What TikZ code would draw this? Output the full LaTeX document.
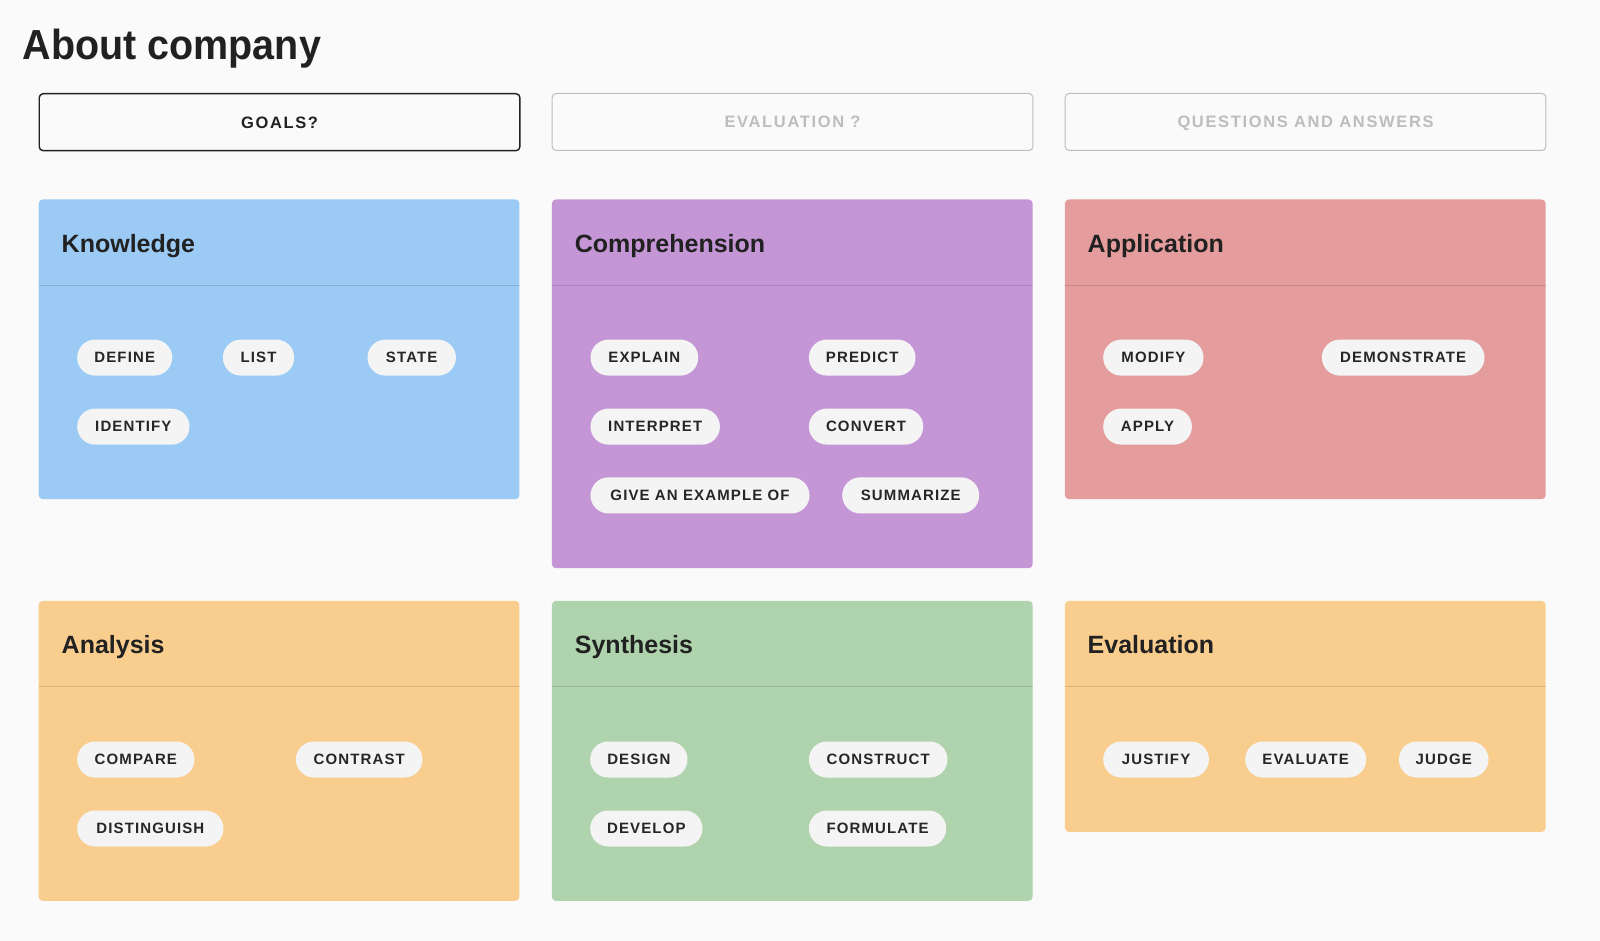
\documentclass[tikz,border=0pt]{standalone}
\usepackage{fontspec}
\setmainfont{Liberation Sans}
\newfontfamily\titlefont{Liberation Sans}[FakeStretch=0.94]
\newfontfamily\chipfont{Liberation Sans}[LetterSpace=7.5]
\newfontfamily\tabfont{Liberation Sans}[LetterSpace=10]
\definecolor{bg}{HTML}{FAFAFA}
\definecolor{cblue}{HTML}{9BCAF5}
\definecolor{cpurple}{HTML}{C596D6}
\definecolor{cred}{HTML}{E49D9C}
\definecolor{corange}{HTML}{F9CD8D}
\definecolor{cgreen}{HTML}{AFD3AC}
\definecolor{chipfill}{HTML}{F4F4F4}
\definecolor{ink}{HTML}{212121}
\definecolor{chipink}{HTML}{262626}
\definecolor{muted}{HTML}{BDBDBD}
\tikzset{
  tabbox/.style={draw=muted, line width=1pt, rounded corners=4pt, fill=bg,
    minimum width=480.7pt, minimum height=57pt, inner sep=0pt, anchor=north west,
    text height=11.8pt, text depth=0pt,
    text=muted, font=\tabfont\fontsize{16.5}{20}\selectfont\bfseries},
  activetab/.style={draw=ink, line width=1.4pt, text=ink},
  card/.style={rounded corners=4pt, minimum width=480.7pt, inner sep=0pt,
    anchor=north west, draw=none},
  cardtitle/.style={anchor=base west, inner sep=0pt, text=ink,
    font=\fontsize{25}{30}\selectfont\bfseries},
  divider/.style={draw=black, draw opacity=0.13, line width=1pt},
  chipbox/.style={fill=chipfill, rounded corners=17.9pt, minimum height=36pt,
    inner sep=0pt, anchor=west, text=chipink, text height=10.7pt, text depth=0pt,
    font=\chipfont\fontsize{15}{18}\selectfont\bfseries}
}
\newcommand\chipat[5]{\node[chipbox, minimum width=#4pt] (#1) at (#2,#3) {#5};}
\begin{document}
\begin{tikzpicture}[x=1pt, y=-1pt]
\fill[bg] (0,0) rectangle (1600,941);
\useasboundingbox (0,0) rectangle (1600,941);

% heading
\node[anchor=base west, inner sep=0pt, text=ink,
  font=\titlefont\fontsize{42}{48}\selectfont\bfseries] (heading) at (22.5,59.3) {About company};

% tabs
\node[tabbox, activetab] (tabgoals) at (38.5,93) {GOALS?};
\node[tabbox] (tabeval) at (551.7,93) {EVALUATION ?};
\node[tabbox] (tabqa) at (1064.7,93) {QUESTIONS AND ANSWERS};

% cards
\node[card, fill=cblue, minimum height=299.7pt] (know) at (38.5,199.3) {};
\node[card, fill=cpurple, minimum height=368.7pt] (comp) at (551.7,199.3) {};
\node[card, fill=cred, minimum height=299.7pt] (appl) at (1064.7,199.3) {};
\node[card, fill=corange, minimum height=300pt] (anal) at (38.5,600.7) {};
\node[card, fill=cgreen, minimum height=300pt] (synt) at (551.7,600.7) {};
\node[card, fill=corange, minimum height=231pt] (eval) at (1064.7,600.7) {};

% dividers
\foreach \c in {know,comp,appl,anal,synt,eval}{
  \draw[divider] ([yshift=-86pt]\c.north west) -- ([yshift=-86pt]\c.north east);
}

% card titles
\node[cardtitle] (knowt) at (61.5,252.3) {Knowledge};
\node[cardtitle] (compt) at (574.7,252.3) {Comprehension};
\node[cardtitle] (applt) at (1087.5,252.3) {Application};
\node[cardtitle] (analt) at (61.5,653.5) {Analysis};
\node[cardtitle] (syntt) at (574.7,653.5) {Synthesis};
\node[cardtitle] (evalt) at (1087.5,653.5) {Evaluation};

% Knowledge chips
\chipat{define}{77}{357.6}{95}{DEFINE}
\chipat{list}{222.7}{357.6}{71.3}{LIST}
\chipat{state}{367.3}{357.6}{88.4}{STATE}
\chipat{identify}{77}{426.6}{112.3}{IDENTIFY}

% Comprehension chips
\chipat{explain}{590.3}{357.6}{107.7}{EXPLAIN}
\chipat{predict}{808.7}{357.6}{106.6}{PREDICT}
\chipat{interpret}{590.3}{426.6}{129.4}{INTERPRET}
\chipat{convert}{808.7}{426.6}{114.3}{CONVERT}
\chipat{example}{590.3}{495.4}{219}{GIVE AN EXAMPLE OF}
\chipat{summarize}{842}{495.4}{137}{SUMMARIZE}

% Application chips
\chipat{modify}{1103}{357.6}{100.3}{MODIFY}
\chipat{demonstrate}{1321.7}{357.6}{162.6}{DEMONSTRATE}
\chipat{apply}{1103}{426.6}{88.7}{APPLY}

% Analysis chips
\chipat{compare}{77}{759.5}{117.3}{COMPARE}
\chipat{contrast}{295.7}{759.5}{126.6}{CONTRAST}
\chipat{distinguish}{77}{828.5}{146.3}{DISTINGUISH}

% Synthesis chips
\chipat{design}{590}{759.5}{97.3}{DESIGN}
\chipat{construct}{808.7}{759.5}{138.6}{CONSTRUCT}
\chipat{develop}{590}{828.5}{112.3}{DEVELOP}
\chipat{formulate}{808.7}{828.5}{137.3}{FORMULATE}

% Evaluation chips
\chipat{justify}{1103}{759.5}{105.7}{JUSTIFY}
\chipat{evaluate}{1245}{759.5}{121}{EVALUATE}
\chipat{judge}{1398.7}{759.5}{89.6}{JUDGE}
\end{tikzpicture}
\end{document}
